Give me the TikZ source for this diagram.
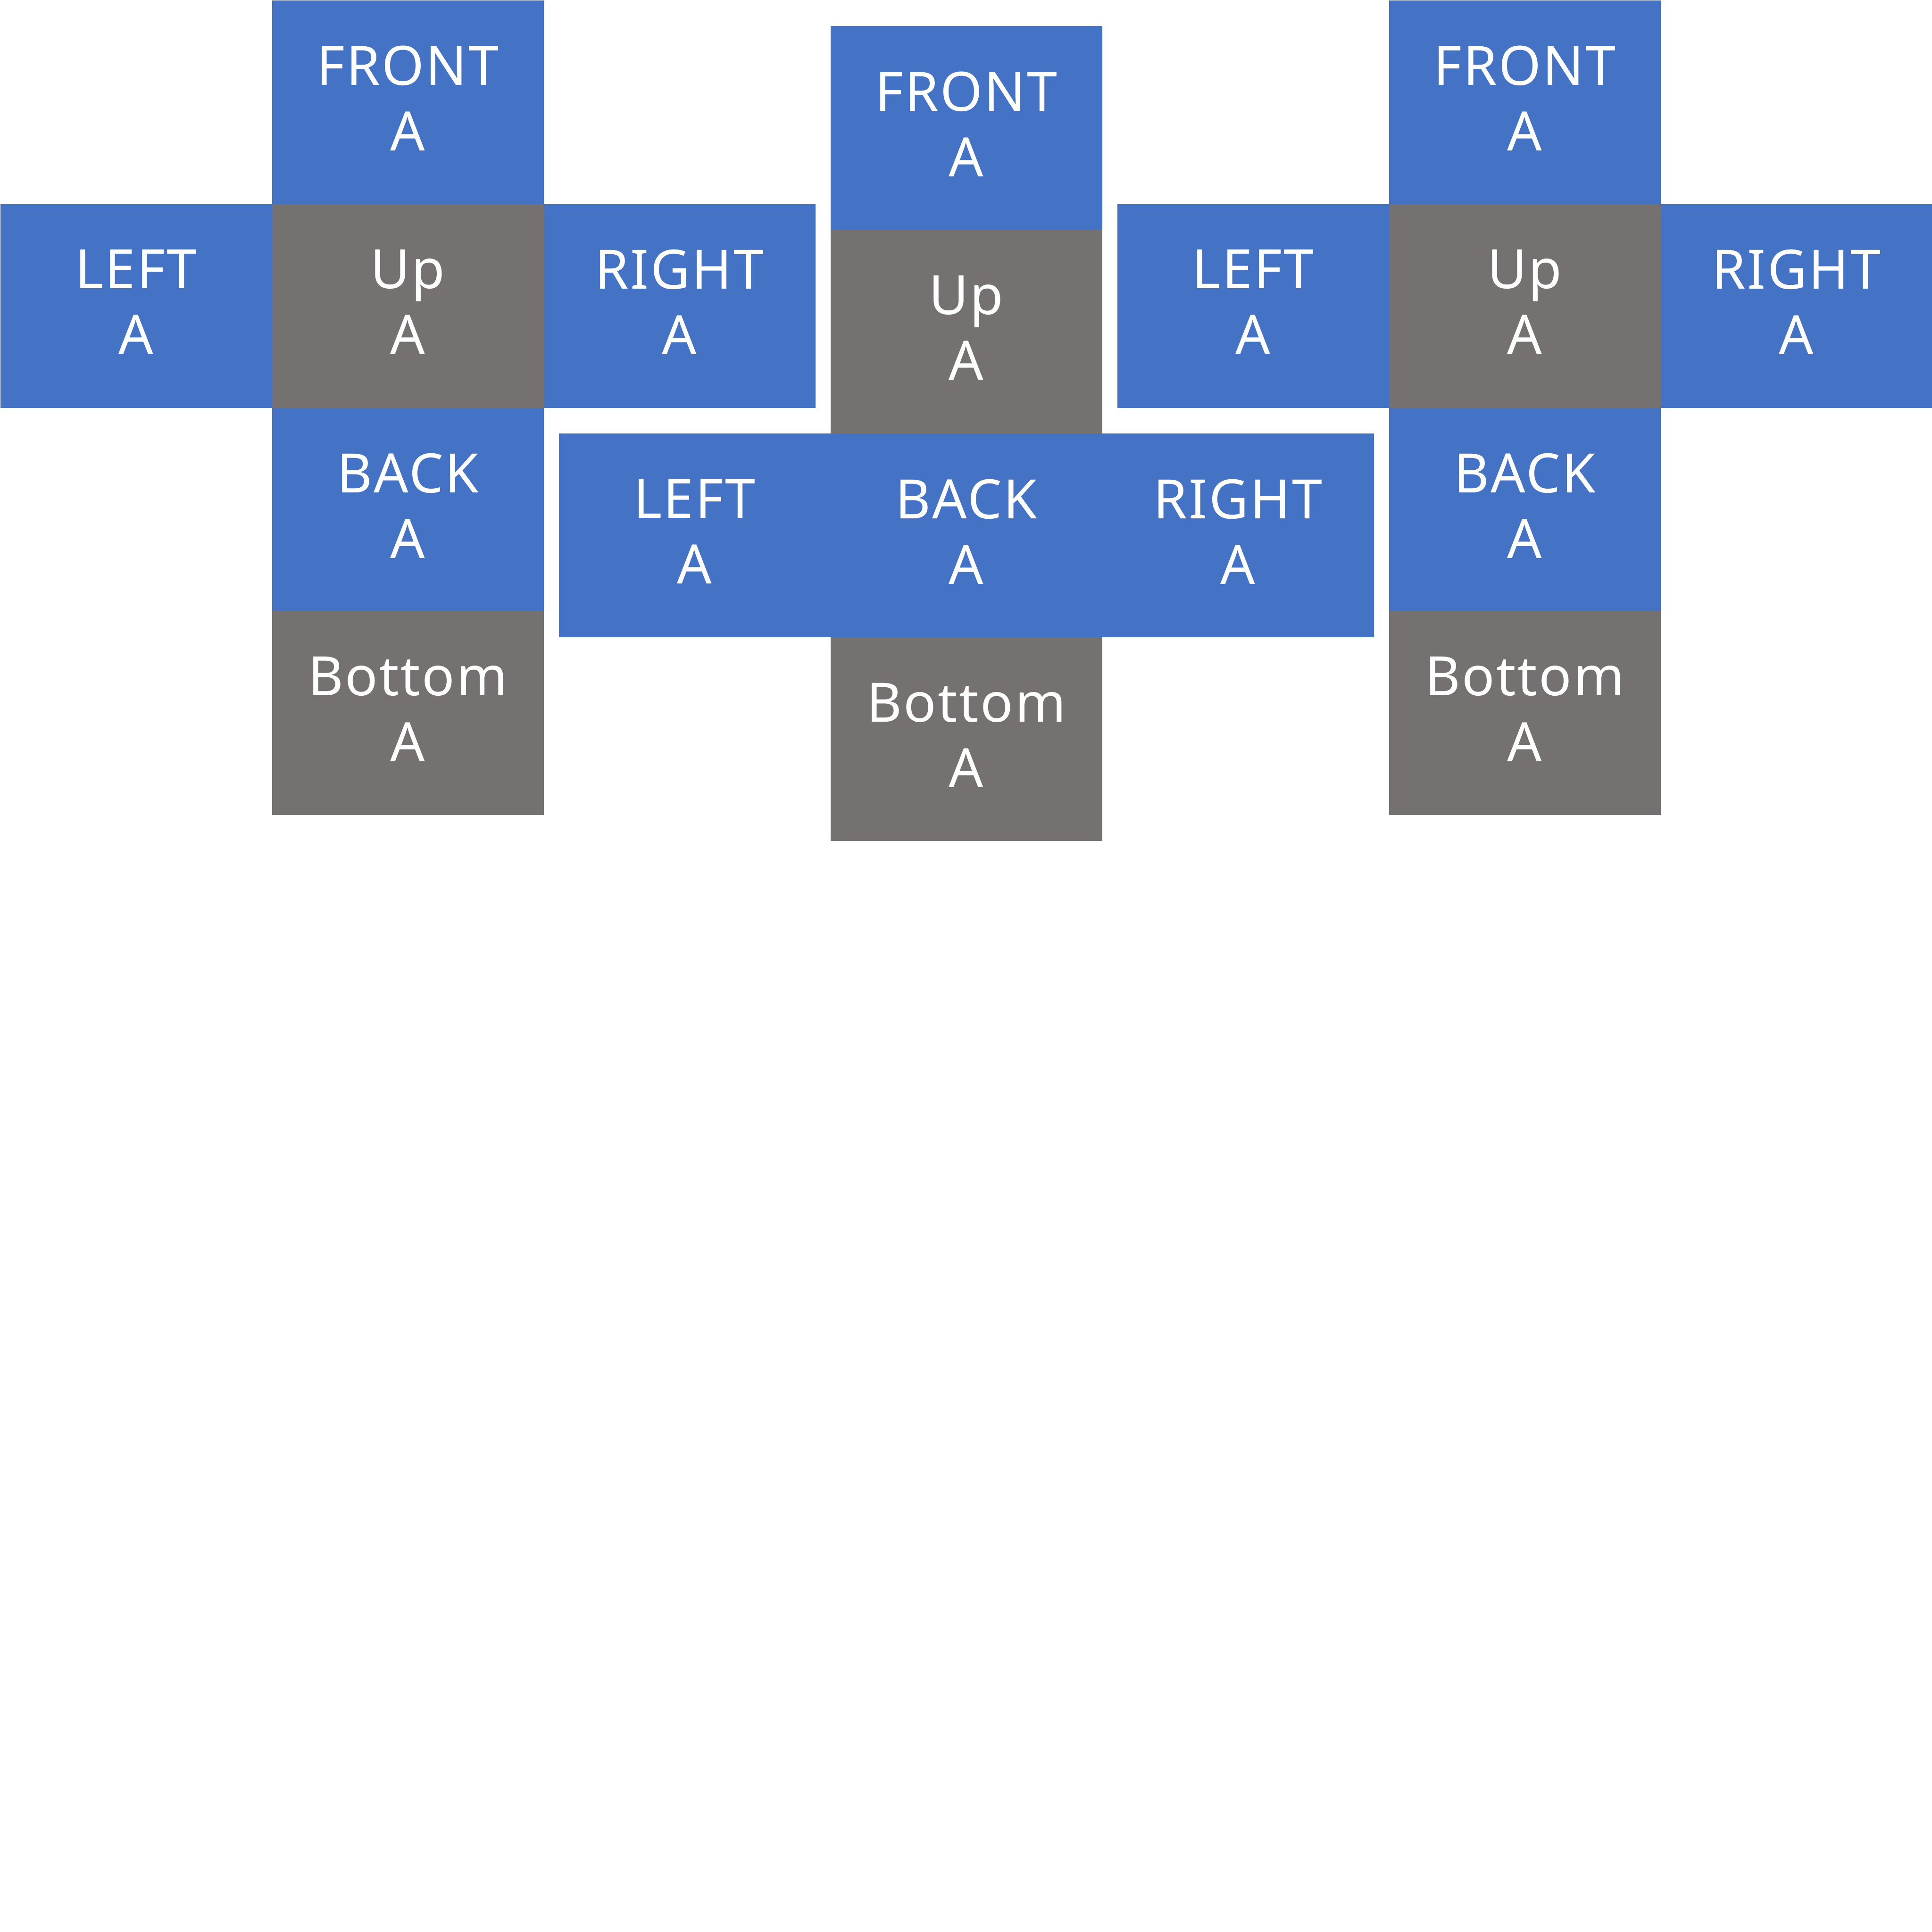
\documentclass[tikz,border=0pt]{standalone}
\usepackage{fontspec}
\setmainfont{Noto Sans}[LetterSpace=3]
\definecolor{faceblue}{HTML}{4472C4}
\definecolor{facegray}{HTML}{767171}
\tikzset{
  face/.style={anchor=north west, inner sep=0pt, minimum width=7.56cm, minimum height=5.67cm,
    text depth=0.22cm, text=white, align=center, font=\fontsize{43}{52}\selectfont},
  bluef/.style={face, fill=faceblue},
  grayf/.style={face, fill=facegray}
}
\begin{document}
\begin{tikzpicture}
\useasboundingbox[fill=white] (0,0) rectangle (53.76,-53.76);
% left cross
\node[bluef] (l-front) at (7.56,0) {FRONT\\A};
\node[bluef] (l-left) at (0,-5.67) {LEFT\\A};
\node[grayf] (l-up) at (7.56,-5.67) {Up\\A};
\node[bluef] (l-right) at (15.12,-5.67) {RIGHT\\A};
\node[bluef] (l-back) at (7.56,-11.34) {BACK\\A};
\node[grayf] (l-bottom) at (7.56,-17.00) {Bottom\\A};
% middle cross
\node[bluef] (m-front) at (23.10,-0.72) {FRONT\\A};
\node[grayf] (m-up) at (23.10,-6.39) {Up\\A};
\node[bluef] (m-left) at (15.54,-12.06) {LEFT\\A};
\node[bluef] (m-back) at (23.10,-12.06) {BACK\\A};
\node[bluef] (m-right) at (30.66,-12.06) {RIGHT\\A};
\node[grayf] (m-bottom) at (23.10,-17.73) {Bottom\\A};
% right cross
\node[bluef] (r-front) at (38.64,0) {FRONT\\A};
\node[bluef] (r-left) at (31.08,-5.67) {LEFT\\A};
\node[grayf] (r-up) at (38.64,-5.67) {Up\\A};
\node[bluef] (r-right) at (46.20,-5.67) {RIGHT\\A};
\node[bluef] (r-back) at (38.64,-11.34) {BACK\\A};
\node[grayf] (r-bottom) at (38.64,-17.00) {Bottom\\A};
\end{tikzpicture}
\end{document}
